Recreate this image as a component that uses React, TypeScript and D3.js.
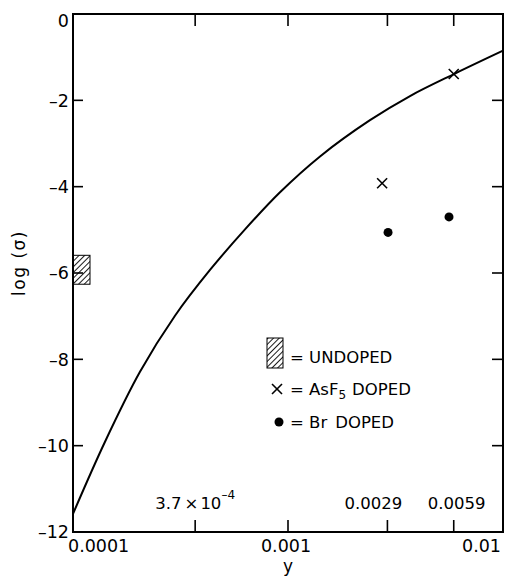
import React from "react";
import * as d3 from "d3";

// ---- data ----
const curveY = [0.0001, 0.0001409, 0.0002049, 0.0002981, 0.0004337, 0.000631, 0.000918, 0.001409, 0.002406, 0.003694, 0.005979, 0.01];
const curveLogSigma = [-11.58, -9.91, -8.29, -6.99, -5.93, -4.99, -4.13, -3.3, -2.46, -1.9, -1.38, -0.85];
const asf5Y = [0.00274, 0.0059];
const asf5LogSigma = [-3.92, -1.39];
const brY = [0.00292, 0.00561];
const brLogSigma = [-5.06, -4.7];
const undopedRange = [-6.26, -5.59];
const yTicks = [0, -2, -4, -6, -8, -10, -12];
const xAxisTicks = [0.0001, 0.001, 0.01];
const xAxisLabels = ["0.0001", "0.001", "0.01"];
const markTicks = [0.00037, 0.001, 0.0029, 0.0059];

const W = 505;
const H = 577;
const L = 73, R = 503, T = 14, B = 532;
const FONT = "DejaVu Sans, sans-serif";

export default function App() {
  const x = d3.scaleLog().domain([0.0001, 0.01]).range([L, R]);
  const y = d3.scaleLinear().domain([-12, 0]).range([B, T]);

  const pts: [number, number][] = curveY.map((v, i) => [x(v), y(curveLogSigma[i])]);
  const line = d3.line().curve(d3.curveCatmullRom.alpha(0.5))(pts) || "";

  const cross = (cx: number, cy: number, s: number, k: string) => (
    <g key={k} stroke="#000" strokeWidth={1.6}>
      <line x1={cx - s} y1={cy - s} x2={cx + s} y2={cy + s} />
      <line x1={cx - s} y1={cy + s} x2={cx + s} y2={cy - s} />
    </g>
  );

  const minus = (v: number) => (v < 0 ? "\u2013" + Math.abs(v) : String(v));

  return (
    <svg width={W} height={H} style={{ position: "absolute", left: 0, top: 0, background: "#fff" }} fontFamily={FONT}>
      <defs>
        <pattern id="hatch" patternUnits="userSpaceOnUse" width={4} height={4} patternTransform="rotate(45)">
          <line x1={0} y1={0} x2={0} y2={4} stroke="#000" strokeWidth={1.8} />
        </pattern>
      </defs>
      <rect x={0} y={0} width={W} height={H} fill="#fff" />

      {/* frame */}
      <rect x={L} y={T} width={R - L} height={B - T} fill="none" stroke="#000" strokeWidth={2} />

      {/* y ticks left & right */}
      {yTicks.map((t) => (
        <g key={"yt" + t}>
          <line x1={L} x2={L + 10} y1={y(t)} y2={y(t)} stroke="#000" strokeWidth={1.6} />
          <line x1={R - 11} x2={R} y1={y(t)} y2={y(t)} stroke="#000" strokeWidth={1.6} />
          <text x={69} y={t === 0 ? y(t) + 7 : y(t)} dy="0.36em" textAnchor="end" fontSize={17.5}>
            {minus(t)}
          </text>
        </g>
      ))}

      {/* x marker ticks top & bottom */}
      {markTicks.map((t) => (
        <g key={"xt" + t}>
          <line x1={x(t)} x2={x(t)} y1={B} y2={B - 12} stroke="#000" strokeWidth={1.6} />
          <line x1={x(t)} x2={x(t)} y1={T} y2={T + 12} stroke="#000" strokeWidth={1.6} />
        </g>
      ))}

      {/* x axis labels */}
      {xAxisTicks.map((t, i) => (
        <text
          key={"xl" + t}
          x={i === 0 ? x(t) - 5 : x(t) - 2}
          y={552}
          textAnchor={i === 0 ? "start" : i === 2 ? "end" : "middle"}
          fontSize={17.5}
        >
          {xAxisLabels[i]}
        </text>
      ))}
      <text x={x(0.001)} y={572} textAnchor="middle" fontSize={17}>y</text>

      {/* inner labels */}
      <text x={x(0.00037)} y={509} textAnchor="middle" fontSize={16.5}>
        <tspan>3.7</tspan>
        <tspan dx={3}>×</tspan>
        <tspan dx={2}>10</tspan>
        <tspan dy={-10} fontSize={12}>–4</tspan>
      </text>
      <text x={x(0.0029) - 14} y={509} textAnchor="middle" fontSize={16.5}>0.0029</text>
      <text x={x(0.0059) + 3} y={509} textAnchor="middle" fontSize={16.5}>0.0059</text>

      {/* y axis label */}
      <text transform={`translate(25,263) rotate(-90)`} textAnchor="middle" fontSize={17} letterSpacing={1.5}>
        log (σ)
      </text>

      {/* curve */}
      <path d={line} fill="none" stroke="#000" strokeWidth={2} />

      {/* undoped box */}
      <rect
        x={L}
        y={y(undopedRange[1])}
        width={17}
        height={y(undopedRange[0]) - y(undopedRange[1])}
        fill="url(#hatch)"
        stroke="#000"
        strokeWidth={1}
      />

      {/* AsF5 crosses */}
      {asf5Y.map((v, i) => cross(x(v), y(asf5LogSigma[i]), 5, "a" + i))}
      {/* Br dots */}
      {brY.map((v, i) => (
        <circle key={"b" + i} cx={x(v)} cy={y(brLogSigma[i])} r={4.5} fill="#000" />
      ))}

      {/* legend */}
      <rect x={267} y={338} width={16} height={30} fill="url(#hatch)" stroke="#000" strokeWidth={1} />
      <text x={290} y={363} fontSize={16.5}>= UNDOPED</text>
      {cross(277, 389, 5, "lg")}
      <text x={290} y={395} fontSize={16.5}>
        <tspan>= AsF</tspan>
        <tspan dy={4} fontSize={12}>5</tspan>
        <tspan dy={-4} dx={6}>DOPED</tspan>
      </text>
      <circle cx={279} cy={422} r={4.5} fill="#000" />
      <text x={290} y={428} fontSize={16.5}>
        <tspan>= Br</tspan>
        <tspan dx={8}>DOPED</tspan>
      </text>
    </svg>
  );
}
